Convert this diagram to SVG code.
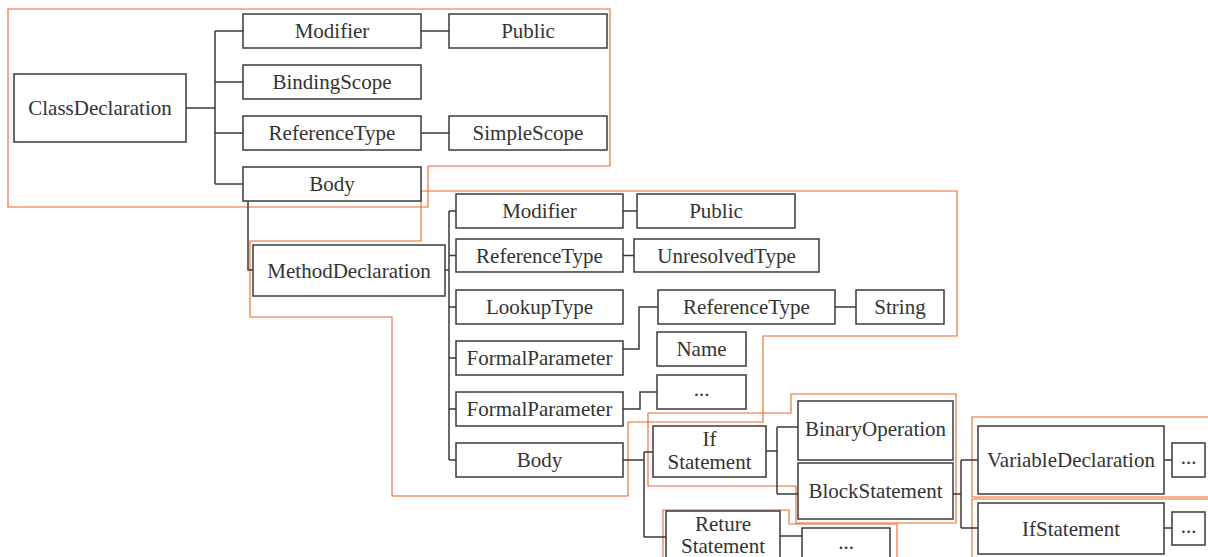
<svg xmlns="http://www.w3.org/2000/svg" width="1208" height="557" viewBox="0 0 1208 557">
<style>
.n rect{fill:#fff;stroke:#3a3a3a;stroke-width:1.5}
.n text{font-family:"Liberation Serif","Times New Roman",serif;font-size:21px;fill:#333;text-anchor:middle}
.c path{fill:none;stroke:#3a3a3a;stroke-width:1.5}
.g polygon,.g polyline{fill:none;stroke:#E8692A;stroke-width:1.1}
</style>
<rect width="1208" height="557" fill="#fff"/>
<g id="groups" class="g">
<polygon points="8,9 610,9 610,166 428,166 428,207 8,207"/>
<polygon points="421,191 957,191 957,336 763,336 763,422 628,422 628,496 392,496 392,317 250,317 250,241 421,241"/>
<polygon points="648,413 791,413 791,394 956,394 956,523 796,523 796,486 648,486"/>
<polyline points="663,562 663,510 789,510 789,524 897,524 897,562"/>
<polyline points="1210,417 972,417 972,497 1210,497"/>
<polyline points="1210,499 972,499 972,562"/>
</g>
<g id="connectors" class="c">
<path d="M186,108H215M215,31V184M215,31H243M215,82H243M215,133H243M215,184H243"/>
<path d="M421,31H449M421,133H449"/>
<path d="M248,201V270H253"/>
<path d="M445,270H449M449,211V460M449,211H456M449,255.5H456M449,307H456M449,358H456M449,409H456M449,460H456"/>
<path d="M623,211H637M623,255.5H634"/>
<path d="M623,349H639V307H658"/>
<path d="M835,307H856"/>
<path d="M623,409H640V392H657"/>
<path d="M623,460H644M644,452V537M644,452H653M644,537H666"/>
<path d="M766,451H777M777,427V494M777,427H798M777,494H798"/>
<path d="M780,536H802"/>
<path d="M953,494H961M961,460V528M961,460H978M961,528H978"/>
<path d="M1164,460H1172M1164,528H1172"/>
</g>
<g id="ClassDeclaration" class="n"><rect x="14" y="74" width="172" height="68"/><text x="100" y="115">ClassDeclaration</text></g>
<g id="Modifier1" class="n"><rect x="243" y="14" width="178" height="34"/><text x="332" y="38">Modifier</text></g>
<g id="BindingScope" class="n"><rect x="243" y="65" width="178" height="34"/><text x="332" y="89">BindingScope</text></g>
<g id="ReferenceType1" class="n"><rect x="243" y="116" width="178" height="34"/><text x="332" y="140">ReferenceType</text></g>
<g id="Body1" class="n"><rect x="243" y="167" width="178" height="34"/><text x="332" y="191">Body</text></g>
<g id="Public1" class="n"><rect x="449" y="14" width="158" height="34"/><text x="528" y="38">Public</text></g>
<g id="SimpleScope" class="n"><rect x="449" y="116" width="158" height="34"/><text x="528" y="140">SimpleScope</text></g>
<g id="MethodDeclaration" class="n"><rect x="253" y="245" width="192" height="51"/><text x="349" y="277.5">MethodDeclaration</text></g>
<g id="Modifier2" class="n"><rect x="456" y="194" width="167" height="34"/><text x="539.5" y="218">Modifier</text></g>
<g id="ReferenceType2" class="n"><rect x="456" y="239" width="167" height="33"/><text x="539.5" y="262.5">ReferenceType</text></g>
<g id="LookupType" class="n"><rect x="456" y="290" width="167" height="34"/><text x="539.5" y="314">LookupType</text></g>
<g id="FormalParameter1" class="n"><rect x="456" y="341" width="167" height="34"/><text x="539.5" y="365">FormalParameter</text></g>
<g id="FormalParameter2" class="n"><rect x="456" y="392" width="167" height="34"/><text x="539.5" y="416">FormalParameter</text></g>
<g id="Body2" class="n"><rect x="456" y="443" width="167" height="34"/><text x="539.5" y="467">Body</text></g>
<g id="Public2" class="n"><rect x="637" y="194" width="158" height="34"/><text x="716" y="218">Public</text></g>
<g id="UnresolvedType" class="n"><rect x="634" y="239" width="185" height="33"/><text x="726.5" y="262.5">UnresolvedType</text></g>
<g id="ReferenceType3" class="n"><rect x="658" y="290" width="177" height="34"/><text x="746.5" y="314">ReferenceType</text></g>
<g id="String" class="n"><rect x="856" y="290" width="88" height="34"/><text x="900" y="314">String</text></g>
<g id="Name" class="n"><rect x="657" y="332" width="89" height="34"/><text x="701.5" y="356">Name</text></g>
<g id="Ellipsis1" class="n"><rect x="657" y="375" width="89" height="34"/><text x="701.5" y="396">...</text></g>
<g id="IfStatement1" class="n"><rect x="653" y="426" width="113" height="51"/><text x="709.5" y="446">If</text><text x="709.5" y="469">Statement</text></g>
<g id="RetureStatement" class="n"><rect x="666" y="511" width="114" height="52"/><text x="723" y="531">Reture</text><text x="723" y="553">Statement</text></g>
<g id="Ellipsis2" class="n"><rect x="802" y="528" width="88" height="34"/><text x="846" y="549">...</text></g>
<g id="BinaryOperation" class="n"><rect x="798" y="401" width="155" height="59"/><text x="875.5" y="436">BinaryOperation</text></g>
<g id="BlockStatement" class="n"><rect x="798" y="463" width="155" height="56"/><text x="875.5" y="498">BlockStatement</text></g>
<g id="VariableDeclaration" class="n"><rect x="978" y="426" width="186" height="68"/><text x="1071" y="467">VariableDeclaration</text></g>
<g id="IfStatement2" class="n"><rect x="978" y="503" width="186" height="51"/><text x="1071" y="535.5">IfStatement</text></g>
<g id="Ellipsis3" class="n"><rect x="1172" y="443" width="33" height="34"/><text x="1188.5" y="464">...</text></g>
<g id="Ellipsis4" class="n"><rect x="1172" y="512" width="33" height="33"/><text x="1188.5" y="532.5">...</text></g>
</svg>
